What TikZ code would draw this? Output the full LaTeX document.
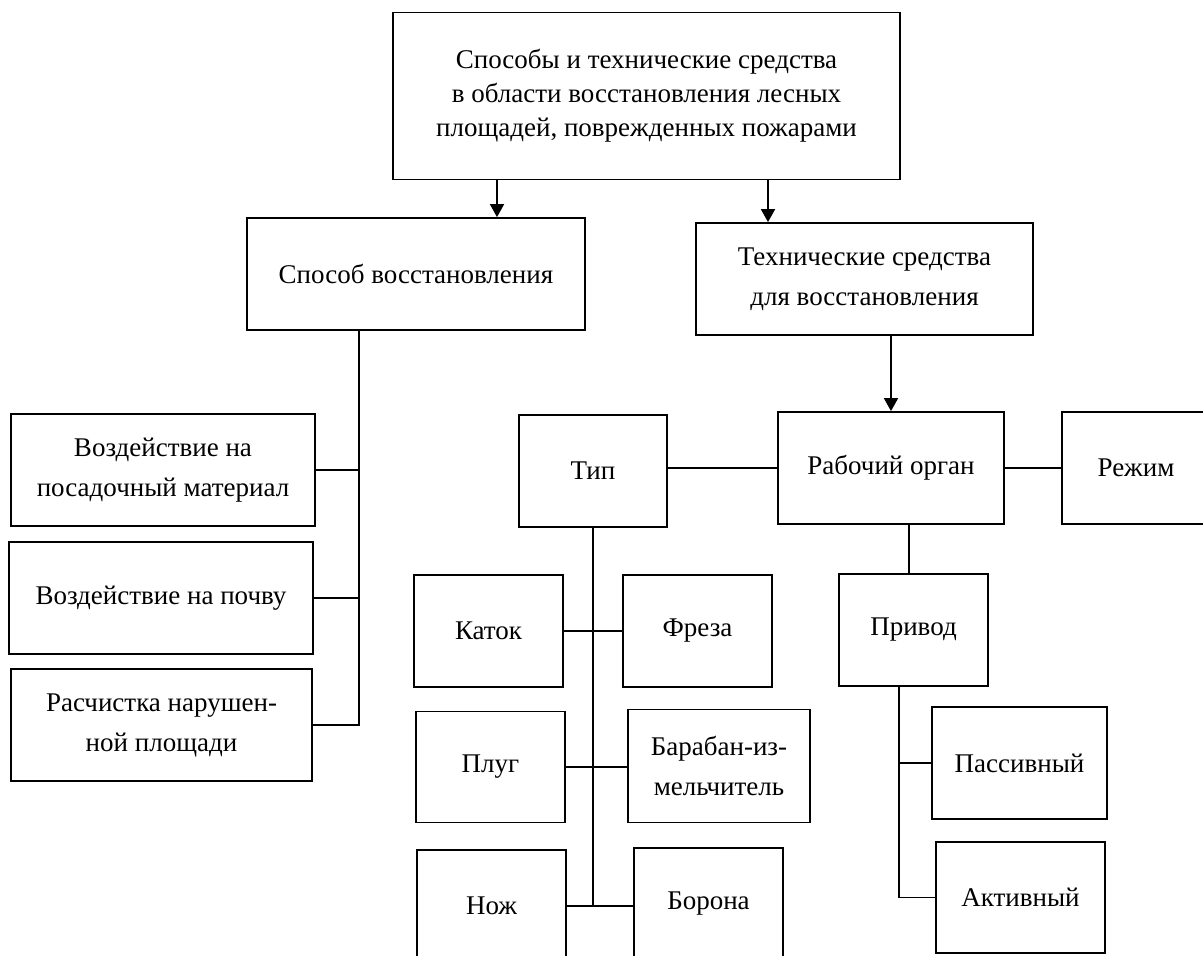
\documentclass[tikz,border=0pt]{standalone}
\usepackage{fontspec}
\setmainfont{Liberation Serif}
\usetikzlibrary{arrows.meta}

\tikzset{
 blok/.style={draw=black, line width=1.8pt, align=center, inner sep=0pt,
   font=\fontsize{27}{40}\selectfont},
 svyaz/.style={line width=1.8pt},
 strelka/.style={line width=1.8pt, -{Triangle[width=14pt,length=13pt]}}
}

\begin{document}
\begin{tikzpicture}[x=1pt,y=-1pt]

 \clip (0,0) rectangle (1203,956);

 % verkhnij blok
 \node[blok, minimum width=507pt, minimum height=167pt, font=\fontsize{27}{34}\selectfont] (glav) at (646.5,96) {Способы и технические средства\\в области восстановления лесных\\площадей, поврежденных пожарами};

 \node[blok, minimum width=338pt, minimum height=112pt] (sposob) at (416,274) {Способ восстановления};
 \node[blok, minimum width=337pt, minimum height=112pt] (tehn) at (864.5,279) {Технические средства\\для восстановления};

 % levaya vetv
 \node[blok, minimum width=304pt, minimum height=112pt] (vozd1) at (163,470) {Воздействие на\\посадочный материал};
 \node[blok, minimum width=304pt, minimum height=112pt] (vozd2) at (161,598) {Воздействие на почву};
 \node[blok, minimum width=301pt, minimum height=112pt] (raschist) at (161.5,725) {Расчистка нарушен-\\ной площади};

 % pravaya vetv
 \node[blok, minimum width=148pt, minimum height=112pt] (tip) at (593,471) {Тип};
 \node[blok, minimum width=226pt, minimum height=112pt] (rabochiy) at (891,468) {Рабочий орган};
 \node[blok, minimum width=148pt, minimum height=112pt] (rezhim) at (1136,468) {Режим};

 \node[blok, minimum width=149pt, minimum height=112pt] (katok) at (488.5,631) {Каток};
 \node[blok, minimum width=149pt, minimum height=112pt] (freza) at (697.5,631) {Фреза};
 \node[blok, minimum width=149pt, minimum height=111pt] (plug) at (490.5,767) {Плуг};
 \node[blok, minimum width=182pt, minimum height=113pt] (baraban) at (719,766) {Барабан-из-\\мельчитель};
 \node[blok, minimum width=149pt, minimum height=112pt] (nozh) at (491.5,906) {Нож};
 \node[blok, minimum width=149pt, minimum height=112pt] (borona) at (708.5,904) {Борона};

 \node[blok, minimum width=149pt, minimum height=112pt] (privod) at (913.5,630) {Привод};
 \node[blok, minimum width=175pt, minimum height=112pt] (passiv) at (1019.5,763) {Пассивный};
 \node[blok, minimum width=169pt, minimum height=111pt] (aktiv) at (1020.5,897.5) {Активный};

 % strelki
 \coordinate (kL) at (497,200);
 \coordinate (kR) at (768,200);
 \draw[strelka] (glav.south -| kL) -- (sposob.north -| kL);
 \draw[strelka] (glav.south -| kR) -- (tehn.north -| kR);
 \draw[strelka] (tehn.south -| rabochiy) -- (rabochiy.north);

 % linii
 \coordinate (osL) at (359,0);
 \draw[svyaz] (sposob.south -| osL) |- (raschist.east);
 \draw[svyaz] (vozd1.east) -- (vozd1.east -| osL);
 \draw[svyaz] (vozd2.east) -- (vozd2.east -| osL);

 \draw[svyaz] (rabochiy.west) -- (rabochiy.west -| tip.east);
 \draw[svyaz] (rabochiy.east) -- (rezhim.west);
 \draw[svyaz] (tip.south) -- (tip.south |- nozh.east);
 \draw[svyaz] (katok.east) -- (freza.west);
 \draw[svyaz] (plug.east) -- (plug.east -| baraban.west);
 \draw[svyaz] (nozh.east) -- (nozh.east -| borona.west);

 \coordinate (osR) at (909,0);
 \coordinate (osP) at (899,0);
 \draw[svyaz] (privod.north -| osR) -- (rabochiy.south -| osR);
 \draw[svyaz] (privod.south -| osP) |- (aktiv.west);
 \draw[svyaz] (passiv.west) -- (passiv.west -| osP);

\end{tikzpicture}
\end{document}
